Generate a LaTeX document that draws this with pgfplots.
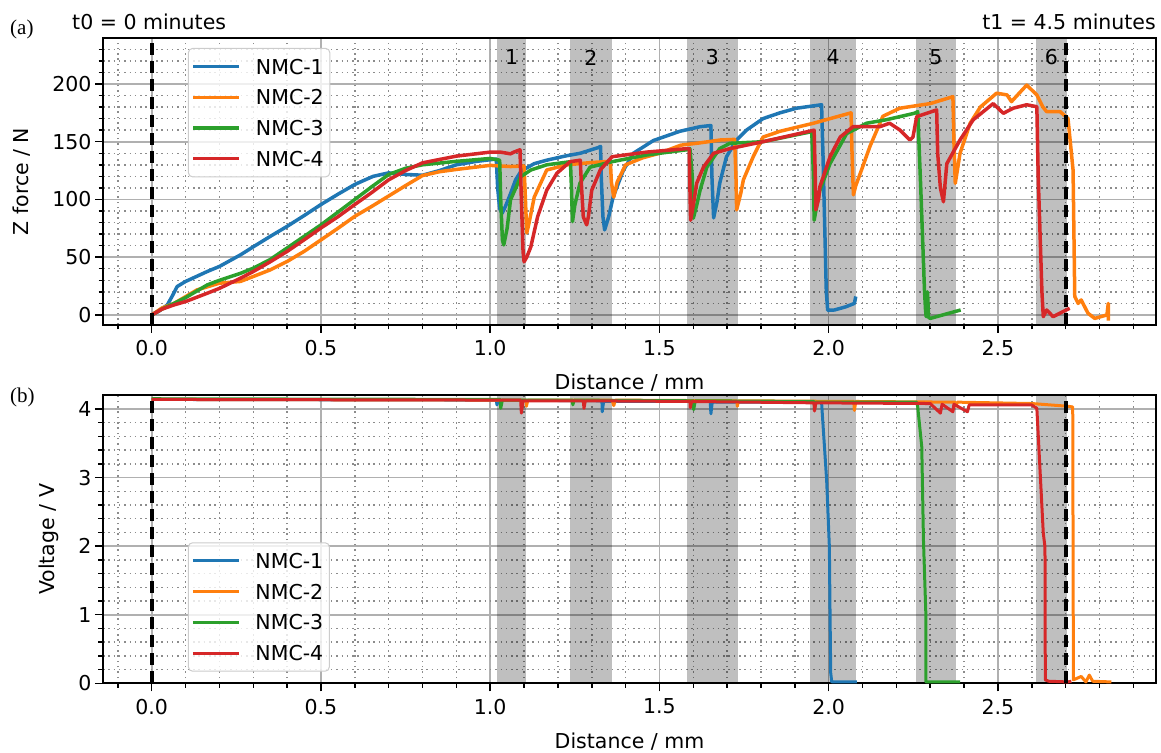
\documentclass[border=0pt]{standalone}
\usepackage{fontspec}
\setmainfont{DejaVu Sans}
\newfontfamily\seriffont{Liberation Serif}
\usepackage{pgfplots}
\pgfplotsset{compat=1.18}
\definecolor{c1}{HTML}{1F77B4}
\definecolor{c2}{HTML}{FF7F0E}
\definecolor{c3}{HTML}{2CA02C}
\definecolor{c4}{HTML}{D62728}
\newcommand{\fs}{\fontsize{20.5}{24}\selectfont}
\tikzset{
  span/.style={black, fill opacity=0.25, draw=none},
  vdash/.style={black, line width=4pt, dash pattern=on 12pt off 6pt},
}
\pgfplotsset{
  mystyle/.style={
    scale only axis, width=1053pt, xmin=-0.144, xmax=2.967,
    clip mode=individual,
    xtick={0,0.5,1,1.5,2,2.5},
    minor xtick={-0.1,0.1,0.2,0.3,0.4,0.6,0.7,0.8,0.9,1.1,1.2,1.3,1.4,1.6,1.7,1.8,1.9,2.1,2.2,2.3,2.4,2.6,2.7,2.8,2.9},
    tick align=outside, xtick pos=bottom, ytick pos=left,
    major tick length=8pt, minor tick length=4.5pt,
    tick style={black, line width=1.5pt},
    axis line style={black, line width=2pt},
    grid=both,
    major grid style={black!31, line width=1.6pt},
    minor grid style={black!45, line width=1.5pt, dash pattern=on 1.5pt off 3.8pt},
    tick label style={font=\fs},
    label style={font=\fs},
    /pgf/number format/assume math mode=true,
    xticklabel style={yshift=-4pt, /pgf/number format/.cd, fixed, fixed zerofill, precision=1},
    legend cell align=left,
    legend image code/.code={\draw[#1] (0pt,0pt) -- (46pt,0pt);},
    legend style={anchor=north west, draw=black!20, line width=1pt, rounded corners=4pt,
      fill=white, fill opacity=0.8, text opacity=1, font=\fs,
      inner xsep=3pt, inner ysep=7.5pt, row sep=9.5pt, column sep=12pt,
      nodes={inner sep=3pt, text depth=0pt}},
    every axis plot/.append style={line join=round},
  },
}
\begin{document}
\begin{tikzpicture}
\path[use as bounding box] (0,0) rectangle (1161pt,752pt);
% ---------------- (a) force ----------------
\begin{axis}[mystyle, at={(103pt,427pt)}, anchor=south west, height=287pt,
  ymin=-8.7, ymax=239.8,
  ytick={0,50,100,150,200},
  minor ytick={10,20,30,40,60,70,80,90,110,120,130,140,160,170,180,190,210,220,230},
  xlabel={Distance / mm}, ylabel={Z force / N},
  xlabel style={at={(rel axis cs:0.5,-0.2021)}, anchor=center},
  ylabel style={at={(rel axis cs:-0.0769,0.5)}, anchor=center},
  legend style={at={(0.0807,0.9652)}},
]
\fill[span] (axis cs:1.021,-8.7) rectangle (axis cs:1.106,239.8);
\fill[span] (axis cs:1.236,-8.7) rectangle (axis cs:1.359,239.8);
\fill[span] (axis cs:1.582,-8.7) rectangle (axis cs:1.731,239.8);
\fill[span] (axis cs:1.945,-8.7) rectangle (axis cs:2.081,239.8);
\fill[span] (axis cs:2.258,-8.7) rectangle (axis cs:2.376,239.8);
\fill[span] (axis cs:2.612,-8.7) rectangle (axis cs:2.704,239.8);
\node[font=\fs] at (axis cs:1.0635,223) {1};
\node[font=\fs] at (axis cs:1.2975,223) {2};
\node[font=\fs] at (axis cs:1.6565,223) {3};
\node[font=\fs] at (axis cs:2.013,223) {4};
\node[font=\fs] at (axis cs:2.317,223) {5};
\node[font=\fs] at (axis cs:2.658,223) {6};
\addplot[c1, line width=3.5pt] coordinates {
(0,0)(0.02,3)(0.046,8.7)(0.06,16)(0.075,24.6)(0.1,29)(0.164,37.6)(0.2,42)(0.262,52)(0.3,59)(0.35,68)(0.4,76.7)(0.45,86)(0.5,95.6)(0.55,104.5)(0.6,113)(0.654,120)(0.7,123)(0.754,121.6)(0.8,121)(0.85,125)(0.9,130)(0.96,133)(1.018,135)(1.022,110)(1.028,92)(1.035,88)(1.045,94)(1.06,105)(1.075,117)(1.09,124)(1.106,127)(1.13,131)(1.167,134)(1.22,137.5)(1.266,140)(1.32,145)(1.326,146)(1.328,120)(1.333,85)(1.338,73.6)(1.35,85)(1.363,102)(1.393,125)(1.423,140)(1.482,151)(1.56,159)(1.62,163)(1.652,164)(1.655,120)(1.66,84)(1.67,98)(1.678,114)(1.698,137)(1.728,151.5)(1.757,160)(1.806,170)(1.856,175)(1.905,179)(1.979,182)(1.983,140)(1.988,80)(1.993,20)(1.997,4)(2.017,4.3)(2.05,7)(2.076,10)(2.08,16)
};
\addlegendentry{NMC-1}
\addplot[c2, line width=3.5pt] coordinates {
(0,0)(0.03,6)(0.066,10)(0.134,21.7)(0.2,27.5)(0.262,29)(0.3,33.3)(0.35,39)(0.4,46.3)(0.45,55)(0.5,65)(0.55,75)(0.6,85.4)(0.65,94)(0.7,103)(0.75,112)(0.8,120.7)(0.85,124)(0.9,126)(1.0,129.5)(1.06,128.5)(1.10,129)(1.104,100)(1.108,71)(1.115,80)(1.13,102)(1.167,125.5)(1.226,130)(1.30,132)(1.355,133)(1.358,115)(1.365,102)(1.375,115)(1.40,130)(1.45,136)(1.5,140)(1.563,147)(1.62,149)(1.68,151.5)(1.722,152)(1.726,120)(1.728,91)(1.74,105)(1.748,117)(1.777,137)(1.806,154)(1.856,159)(1.955,166)(2.066,175)(2.069,140)(2.073,104)(2.08,112)(2.097,125.5)(2.122,146)(2.16,172)(2.21,179)(2.30,183)(2.367,189)(2.37,150)(2.374,114)(2.38,125)(2.388,140)(2.418,166)(2.448,180)(2.496,192)(2.527,190.5)(2.54,184.7)(2.566,193)(2.585,199)(2.615,190.5)(2.633,180)(2.644,176)(2.684,176)(2.707,170)(2.722,125.5)(2.727,16)(2.737,10)(2.746,13)(2.766,1.5)(2.786,-3)(2.822,0)(2.826,10)(2.826,-5)
};
\addlegendentry{NMC-2}
\addplot[c3, line width=3.5pt] coordinates {
(0,0)(0.03,5)(0.066,10)(0.1,15)(0.164,26)(0.2,30)(0.262,36)(0.3,40.5)(0.35,48)(0.4,58)(0.45,68)(0.5,78)(0.55,89)(0.6,100)(0.65,111)(0.7,121.6)(0.75,127)(0.8,130)(0.9,133)(1.0,135.5)(1.028,134)(1.031,100)(1.036,65)(1.04,60.6)(1.05,75)(1.06,99.6)(1.09,119.7)(1.12,125.5)(1.167,130)(1.237,132.7)(1.24,110)(1.243,80.8)(1.25,95)(1.265,114)(1.295,128)(1.36,132.7)(1.462,138.5)(1.58,143)(1.59,144)(1.597,120)(1.60,83.7)(1.61,95)(1.62,108)(1.64,128)(1.678,144)(1.708,148.6)(1.806,150)(1.905,156)(1.95,158.7)(1.955,120)(1.957,82)(1.965,95)(1.974,108)(2.004,131)(2.053,157)(2.112,166)(2.17,169)(2.21,171.7)(2.253,174.6)(2.263,176)(2.272,110)(2.283,21.6)(2.286,5)(2.288,-1.5)(2.292,20)(2.295,-2)(2.30,-3)(2.39,4.3)
};
\addlegendentry{NMC-3}
\addplot[c4, line width=3.5pt] coordinates {
(0,0)(0.03,5)(0.066,8.7)(0.1,11.6)(0.164,18.8)(0.2,23)(0.262,31.8)(0.3,37.6)(0.35,46)(0.4,55)(0.45,65)(0.5,75.3)(0.55,85)(0.6,95.6)(0.65,106)(0.7,117)(0.75,125)(0.8,131.7)(0.9,137.5)(1.0,141)(1.03,141)(1.06,139.5)(1.07,141)(1.088,143)(1.092,100)(1.097,55)(1.10,46)(1.108,50)(1.12,59)(1.14,85)(1.167,108)(1.197,122.7)(1.236,132.7)(1.266,134)(1.27,110)(1.275,85)(1.285,78)(1.29,85)(1.30,108)(1.325,125.5)(1.36,137)(1.462,141)(1.58,144)(1.588,144)(1.59,110)(1.592,82)(1.60,95)(1.61,114)(1.63,128)(1.66,140)(1.708,144)(1.806,150)(1.957,160)(1.96,125)(1.962,91)(1.97,100)(1.974,111)(2.004,137)(2.034,154)(2.072,163)(2.151,163)(2.18,166)(2.211,160)(2.24,151.5)(2.249,154)(2.26,171.7)(2.319,177.5)(2.322,140)(2.33,110)(2.339,98)(2.349,131)(2.358,135.7)(2.388,151.5)(2.427,169)(2.486,183)(2.516,174.6)(2.545,179)(2.585,182)(2.615,180.3)(2.619,120)(2.63,20)(2.634,-1.5)(2.644,4.3)(2.663,-1.5)(2.712,5.8)
};
\addlegendentry{NMC-4}
\draw[vdash] (axis cs:0,-8.7) -- (axis cs:0,239.8);
\draw[vdash] (axis cs:2.7,-8.7) -- (axis cs:2.7,239.8);
\node[font=\fs, anchor=west, inner sep=0pt] at (rel axis cs:-0.0294,1.0557) {t0 = 0 minutes};
\node[font=\fs, anchor=east, inner sep=0pt] at (rel axis cs:1,1.0557) {t1 = 4.5 minutes};
\node[font=\seriffont\fontsize{21}{24}\selectfont, anchor=west, inner sep=0pt] at (rel axis cs:-0.0883,1.0314) {(a)};
\end{axis}
% ---------------- (b) voltage ----------------
\begin{axis}[mystyle, at={(103pt,68.7pt)}, anchor=south west, height=288pt,
  ymin=0, ymax=4.2,
  ytick={0,1,2,3,4},
  minor ytick={0.2,0.4,0.6,0.8,1.2,1.4,1.6,1.8,2.2,2.4,2.6,2.8,3.2,3.4,3.6,3.8},
  xlabel={Distance / mm}, ylabel={Voltage / V},
  xlabel style={at={(rel axis cs:0.5,-0.2014)}, anchor=center},
  ylabel style={at={(rel axis cs:-0.0513,0.5)}, anchor=center},
  legend style={at={(0.0807,0.4896)}},
]
\fill[span] (axis cs:1.021,0) rectangle (axis cs:1.106,4.2);
\fill[span] (axis cs:1.236,0) rectangle (axis cs:1.359,4.2);
\fill[span] (axis cs:1.582,0) rectangle (axis cs:1.731,4.2);
\fill[span] (axis cs:1.945,0) rectangle (axis cs:2.081,4.2);
\fill[span] (axis cs:2.258,0) rectangle (axis cs:2.376,4.2);
\fill[span] (axis cs:2.612,0) rectangle (axis cs:2.704,4.2);
\addplot[c1, line width=3pt] coordinates {
(0,4.14)(1.018,4.13)(1.02,4.06)(1.024,4.13)(1.33,4.12)(1.331,3.96)(1.335,4.11)(1.65,4.11)(1.652,3.93)(1.656,4.1)(1.979,4.1)(1.981,3.94)(1.994,2.96)(2.002,1.99)(2.004,1.02)(2.006,0.15)(2.009,0.02)(2.083,0.02)
};
\addlegendentry{NMC-1}
\addplot[c2, line width=3pt] coordinates {
(0,4.14)(1.106,4.13)(1.107,4.04)(1.111,4.13)(1.36,4.13)(1.365,4.05)(1.37,4.13)(1.729,4.12)(1.73,4.04)(1.734,4.12)(2.074,4.11)(2.076,3.98)(2.08,4.11)(2.374,4.1)(2.376,4.04)(2.38,4.1)(2.6,4.08)(2.707,4.04)(2.721,4.03)(2.723,0.05)(2.746,0.1)(2.76,0.02)(2.77,0.12)(2.78,0.03)(2.835,0.02)
};
\addlegendentry{NMC-2}
\addplot[c3, line width=3pt] coordinates {
(0,4.15)(1.03,4.14)(1.031,4.01)(1.036,4.13)(1.243,4.13)(1.244,4.06)(1.248,4.13)(1.60,4.12)(1.601,3.99)(1.606,4.12)(1.957,4.11)(1.958,4.0)(1.962,4.1)(2.26,4.1)(2.263,4.03)(2.275,3.45)(2.28,2.09)(2.287,1.02)(2.287,0.02)(2.388,0.02)
};
\addlegendentry{NMC-3}
\addplot[c4, line width=3pt] coordinates {
(0,4.14)(1.09,4.13)(1.092,3.94)(1.097,4.12)(1.275,4.12)(1.277,4.01)(1.281,4.12)(1.59,4.11)(1.591,4.02)(1.595,4.11)(1.957,4.09)(1.958,3.97)(1.962,4.09)(2.3,4.08)(2.33,3.94)(2.335,4.07)(2.367,3.96)(2.37,4.07)(2.41,3.96)(2.415,4.06)(2.6,4.06)(2.615,4.01)(2.634,2.19)(2.639,1.99)(2.64,0.05)(2.65,0.03)(2.707,0.02)(2.717,0.03)
};
\addlegendentry{NMC-4}
\draw[vdash] (axis cs:0,0) -- (axis cs:0,4.2);
\draw[vdash] (axis cs:2.7,0) -- (axis cs:2.7,4.2);
\node[font=\seriffont\fontsize{21}{24}\selectfont, anchor=west, inner sep=0pt] at (rel axis cs:-0.0883,0.993) {(b)};
\end{axis}
\end{tikzpicture}
\end{document}
